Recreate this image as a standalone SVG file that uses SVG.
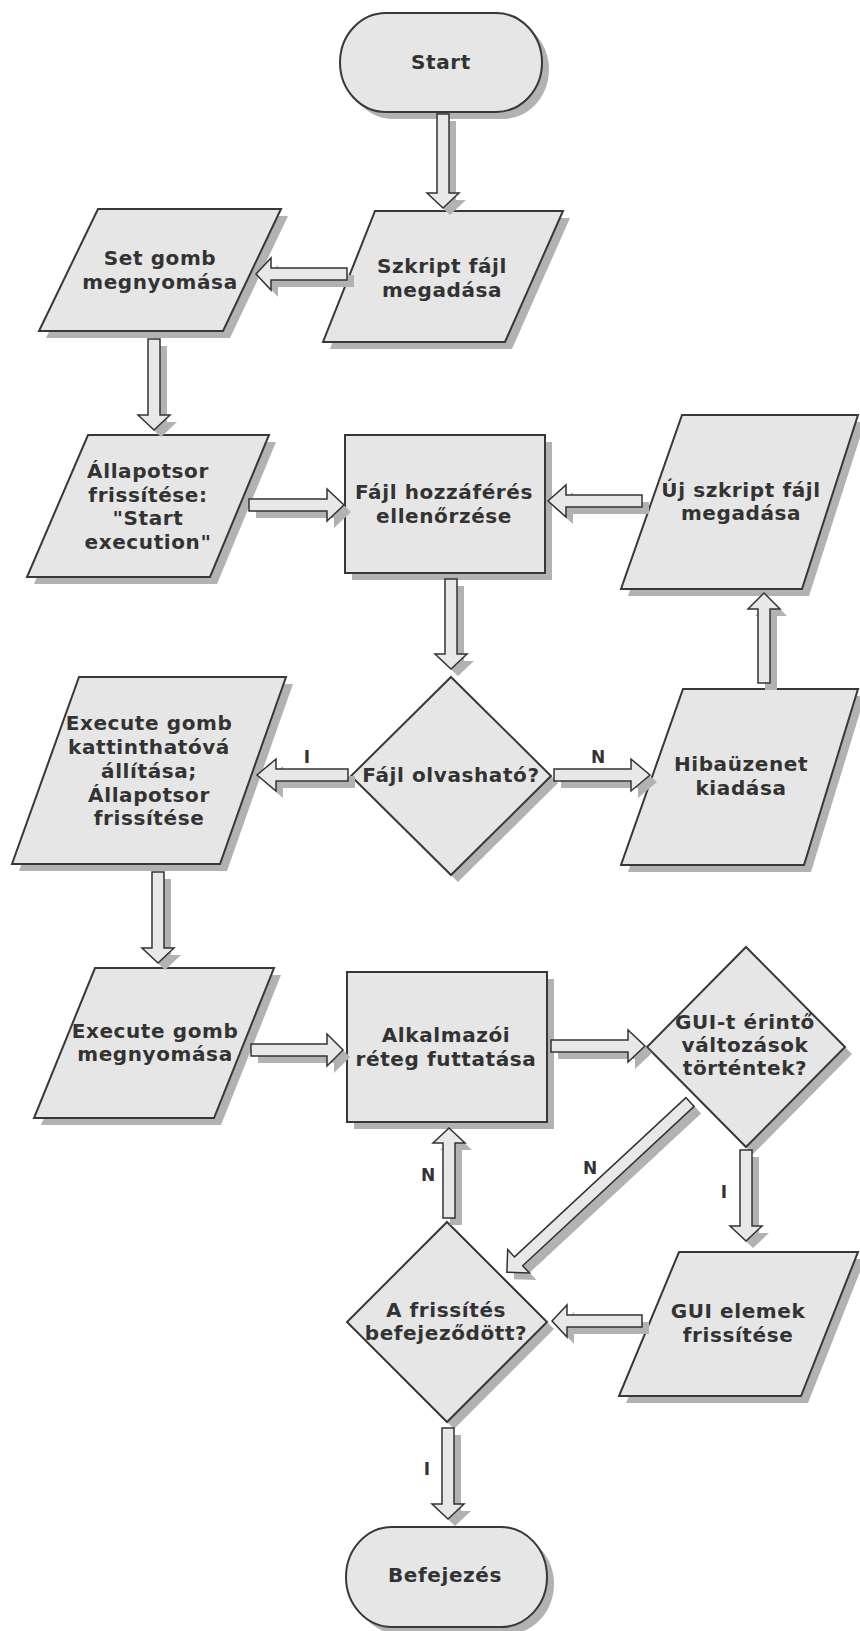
<svg xmlns="http://www.w3.org/2000/svg" width="860" height="1631" viewBox="0 0 860 1631">
  <style>
    .bg { fill: #ffffff; }
    .shadow { fill: #b2b2b2; stroke: none; }
    .shape { fill: #e6e6e6; stroke: #383838; stroke-width: 2; stroke-linejoin: miter; }
    .arrow { fill: #e8e8e8; stroke: #333333; stroke-width: 1.5; stroke-linejoin: miter; }
    text { font-family: "DejaVu Sans", Verdana, "Liberation Sans", sans-serif; font-weight: bold; fill: #333333; }
    .t { font-size: 20px; letter-spacing: 0.6px; text-anchor: middle; }
    .lbl { font-size: 17px; text-anchor: middle; }
  </style>
  <rect class="bg" x="0" y="0" width="860" height="1631"/>

  <!-- nodes -->
  <g id="n-start">
    <rect class="shadow" x="347" y="20" width="202" height="99" rx="46" ry="49.5"/>
    <rect class="shape" x="340" y="13" width="202" height="99" rx="46" ry="49.5"/>
    <text class="t" x="441" y="69">Start</text>
  </g>

  <g id="n-szkript">
    <polygon class="shadow" points="382,218 570,218 512,349 330,349"/>
    <polygon class="shape" points="375,211 563,211 505,342 323,342"/>
    <text class="t" x="442" y="273">Szkript fájl</text>
    <text class="t" x="442" y="297">megadása</text>
  </g>

  <g id="n-set">
    <polygon class="shadow" points="105,216 288,216 230,338 46,338"/>
    <polygon class="shape" points="98,209 281,209 223,331 39,331"/>
    <text class="t" x="160" y="265">Set gomb</text>
    <text class="t" x="160" y="289">megnyomása</text>
  </g>

  <g id="n-allapotsor">
    <polygon class="shadow" points="95,442 276,442 217,584 34,584"/>
    <polygon class="shape" points="88,435 269,435 210,577 27,577"/>
    <text class="t" x="148" y="478">Állapotsor</text>
    <text class="t" x="148" y="502">frissítése:</text>
    <text class="t" x="148" y="525">"Start</text>
    <text class="t" x="148" y="549">execution"</text>
  </g>

  <g id="n-hozzaferes">
    <rect class="shadow" x="352" y="442" width="200" height="138"/>
    <rect class="shape" x="345" y="435" width="200" height="138"/>
    <text class="t" x="444" y="499">Fájl hozzáférés</text>
    <text class="t" x="444" y="523">ellenőrzése</text>
  </g>

  <g id="n-uj-szkript">
    <polygon class="shadow" points="689,422 865,422 809,596 628,596"/>
    <polygon class="shape" points="682,415 858,415 802,589 621,589"/>
    <text class="t" x="741" y="497">Új szkript fájl</text>
    <text class="t" x="741" y="520">megadása</text>
  </g>

  <g id="n-olvashato">
    <polygon class="shadow" points="458,684 558,783 458,882 358,783"/>
    <polygon class="shape" points="451,677 551,776 451,875 351,776"/>
    <text class="t" x="451" y="782">Fájl olvasható?</text>
  </g>

  <g id="n-execute-enable">
    <polygon class="shadow" points="86,684 293,684 227,871 19,871"/>
    <polygon class="shape" points="79,677 286,677 220,864 12,864"/>
    <text class="t" x="149" y="730">Execute gomb</text>
    <text class="t" x="149" y="754">kattinthatóvá</text>
    <text class="t" x="149" y="778">állítása;</text>
    <text class="t" x="149" y="802">Állapotsor</text>
    <text class="t" x="149" y="825">frissítése</text>
  </g>

  <g id="n-hiba">
    <polygon class="shadow" points="690,696 865,696 811,872 628,872"/>
    <polygon class="shape" points="683,689 858,689 804,865 621,865"/>
    <text class="t" x="741" y="771">Hibaüzenet</text>
    <text class="t" x="741" y="795">kiadása</text>
  </g>

  <g id="n-execute-press">
    <polygon class="shadow" points="102,975 281,975 221,1125 41,1125"/>
    <polygon class="shape" points="95,968 274,968 214,1118 34,1118"/>
    <text class="t" x="155" y="1038">Execute gomb</text>
    <text class="t" x="155" y="1061">megnyomása</text>
  </g>

  <g id="n-alkalmazoi">
    <rect class="shadow" x="354" y="979" width="200" height="150"/>
    <rect class="shape" x="347" y="972" width="200" height="150"/>
    <text class="t" x="446" y="1042">Alkalmazói</text>
    <text class="t" x="446" y="1066">réteg futtatása</text>
  </g>

  <g id="n-gui-valtozas">
    <polygon class="shadow" points="753,954 852,1054 753,1154 654,1054"/>
    <polygon class="shape" points="746,947 845,1047 746,1147 647,1047"/>
    <text class="t" x="745" y="1029">GUI-t érintő</text>
    <text class="t" x="745" y="1052">változások</text>
    <text class="t" x="745" y="1075">történtek?</text>
  </g>

  <g id="n-frissites-kesz">
    <polygon class="shadow" points="454,1229 554,1329 454,1429 354,1329"/>
    <polygon class="shape" points="447,1222 547,1322 447,1422 347,1322"/>
    <text class="t" x="446" y="1317">A frissítés</text>
    <text class="t" x="446" y="1340">befejeződött?</text>
  </g>

  <g id="n-gui-elemek">
    <polygon class="shadow" points="686,1259 865,1259 808,1403 626,1403"/>
    <polygon class="shape" points="679,1252 858,1252 801,1396 619,1396"/>
    <text class="t" x="738" y="1318">GUI elemek</text>
    <text class="t" x="738" y="1342">frissítése</text>
  </g>

  <g id="n-befejezes">
    <rect class="shadow" x="353" y="1534" width="201" height="100" rx="46" ry="50"/>
    <rect class="shape" x="346" y="1527" width="201" height="100" rx="46" ry="50"/>
    <text class="t" x="445" y="1582">Befejezés</text>
  </g>

  <!-- connectors: block arrows, each with its drop shadow -->
  <g id="connectors">
    <!-- Start -> Szkript fájl megadása -->
    <path class="shadow" transform="translate(7,7)" d="M437,114 H449 V193 H459 L443,208 L427,193 H437 Z"/>
    <path class="arrow" d="M437,114 H449 V193 H459 L443,208 L427,193 H437 Z"/>

    <!-- Szkript fájl megadása -> Set gomb megnyomása -->
    <path class="shadow" transform="translate(7,7)" d="M347,268 V280 H271 V290 L256,274 L271,258 V268 Z"/>
    <path class="arrow" d="M347,268 V280 H271 V290 L256,274 L271,258 V268 Z"/>

    <!-- Set gomb megnyomása -> Állapotsor frissítése -->
    <path class="shadow" transform="translate(7,7)" d="M148,339 H160 V415 H170 L154,430 L138,415 H148 Z"/>
    <path class="arrow" d="M148,339 H160 V415 H170 L154,430 L138,415 H148 Z"/>

    <!-- Állapotsor frissítése -> Fájl hozzáférés ellenőrzése -->
    <path class="shadow" transform="translate(7,7)" d="M249,499 H327 V489 L344,505 L327,521 V511 H249 Z"/>
    <path class="arrow" d="M249,499 H327 V489 L344,505 L327,521 V511 H249 Z"/>

    <!-- Új szkript fájl megadása -> Fájl hozzáférés ellenőrzése -->
    <path class="shadow" transform="translate(7,7)" d="M642,495 V507 H566 V517 L548,501 L566,485 V495 Z"/>
    <path class="arrow" d="M642,495 V507 H566 V517 L548,501 L566,485 V495 Z"/>

    <!-- Fájl hozzáférés ellenőrzése -> Fájl olvasható? -->
    <path class="shadow" transform="translate(7,7)" d="M445,579 H457 V654 H467 L451,669 L435,654 H445 Z"/>
    <path class="arrow" d="M445,579 H457 V654 H467 L451,669 L435,654 H445 Z"/>

    <!-- Hibaüzenet kiadása -> Új szkript fájl megadása -->
    <path class="shadow" transform="translate(7,7)" d="M758,683 H770 V609 H780 L764,593 L748,609 H758 Z"/>
    <path class="arrow" d="M758,683 H770 V609 H780 L764,593 L748,609 H758 Z"/>

    <!-- Fájl olvasható? -> Execute gomb kattinthatóvá (I) -->
    <path class="shadow" transform="translate(7,7)" d="M348,769 V781 H276 V791 L257,775 L276,759 V769 Z"/>
    <path class="arrow" d="M348,769 V781 H276 V791 L257,775 L276,759 V769 Z"/>
    <text class="lbl" x="307" y="763">I</text>

    <!-- Fájl olvasható? -> Hibaüzenet kiadása (N) -->
    <path class="shadow" transform="translate(7,7)" d="M554,769 H631 V759 L650,775 L631,791 V781 H554 Z"/>
    <path class="arrow" d="M554,769 H631 V759 L650,775 L631,791 V781 H554 Z"/>
    <text class="lbl" x="598" y="763">N</text>

    <!-- Execute gomb kattinthatóvá -> Execute gomb megnyomása -->
    <path class="shadow" transform="translate(7,7)" d="M152,872 H164 V948 H174 L158,963 L142,948 H152 Z"/>
    <path class="arrow" d="M152,872 H164 V948 H174 L158,963 L142,948 H152 Z"/>

    <!-- Execute gomb megnyomása -> Alkalmazói réteg futtatása -->
    <path class="shadow" transform="translate(7,7)" d="M251,1044 H327 V1034 L343,1050 L327,1066 V1056 H251 Z"/>
    <path class="arrow" d="M251,1044 H327 V1034 L343,1050 L327,1066 V1056 H251 Z"/>

    <!-- Alkalmazói réteg futtatása -> GUI-t érintő változások történtek? -->
    <path class="shadow" transform="translate(7,7)" d="M551,1040 H628 V1030 L645,1046 L628,1062 V1052 H551 Z"/>
    <path class="arrow" d="M551,1040 H628 V1030 L645,1046 L628,1062 V1052 H551 Z"/>

    <!-- A frissítés befejeződött? -> Alkalmazói réteg futtatása (N) -->
    <path class="shadow" transform="translate(7,7)" d="M443,1218 H455 V1143 H465 L449,1128 L433,1143 H443 Z"/>
    <path class="arrow" d="M443,1218 H455 V1143 H465 L449,1128 L433,1143 H443 Z"/>
    <text class="lbl" x="428" y="1181">N</text>

    <!-- GUI-t érintő változások történtek? -> A frissítés befejeződött? (N) -->
    <path class="shadow" transform="translate(697,1109) rotate(137.1)" d="M0,-6 H234 V-16 L250,0 L234,16 V6 H0 Z"/>
    <path class="arrow" transform="translate(690,1102) rotate(137.1)" d="M0,-6 H234 V-16 L250,0 L234,16 V6 H0 Z"/>
    <text class="lbl" x="590" y="1174">N</text>

    <!-- GUI-t érintő változások történtek? -> GUI elemek frissítése (I) -->
    <path class="shadow" transform="translate(7,7)" d="M740,1150 H752 V1226 H762 L746,1241 L730,1226 H740 Z"/>
    <path class="arrow" d="M740,1150 H752 V1226 H762 L746,1241 L730,1226 H740 Z"/>
    <text class="lbl" x="724" y="1198">I</text>

    <!-- GUI elemek frissítése -> A frissítés befejeződött? -->
    <path class="shadow" transform="translate(7,7)" d="M642,1315 V1327 H567 V1337 L552,1321 L567,1305 V1315 Z"/>
    <path class="arrow" d="M642,1315 V1327 H567 V1337 L552,1321 L567,1305 V1315 Z"/>

    <!-- A frissítés befejeződött? -> Befejezés (I) -->
    <path class="shadow" transform="translate(7,7)" d="M442,1428 H454 V1504 H464 L448,1519 L432,1504 H442 Z"/>
    <path class="arrow" d="M442,1428 H454 V1504 H464 L448,1519 L432,1504 H442 Z"/>
    <text class="lbl" x="427" y="1475">I</text>
  </g>
</svg>
